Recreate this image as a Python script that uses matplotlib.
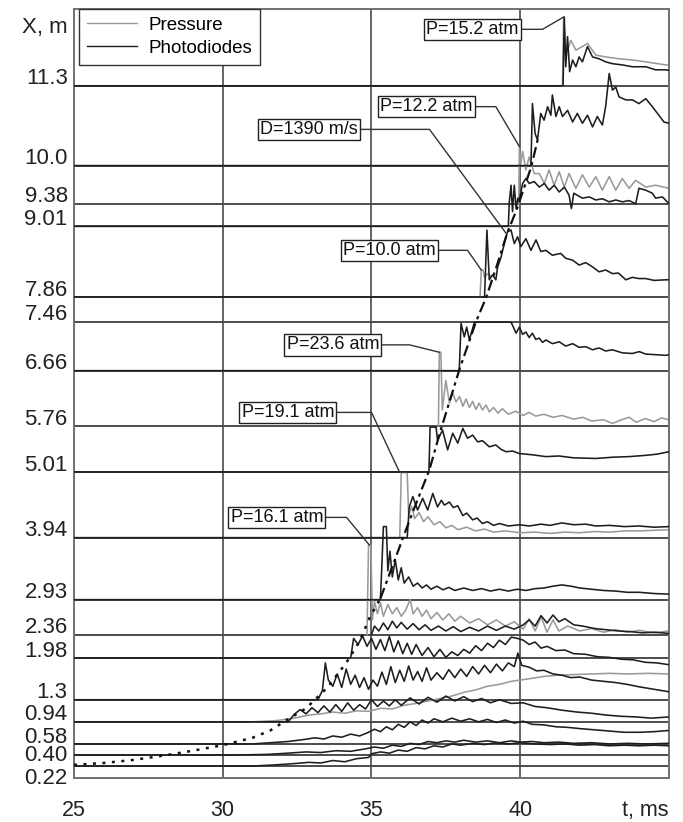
import matplotlib
matplotlib.use("Agg")
import matplotlib.pyplot as plt

plt.rcParams['font.family'] = ['Liberation Sans', 'DejaVu Sans']

# sensor positions along the tube (m) -> baselines / y ticks
x_levels = [0.22, 0.40, 0.58, 0.94, 1.3, 1.98, 2.36, 2.93, 3.94, 5.01,
            5.76, 6.66, 7.46, 7.86, 9.01, 9.38, 10.0, 11.3]
x_labels = ['0.22', '0.40', '0.58', '0.94', '1.3', '1.98', '2.36', '2.93',
            '3.94', '5.01', '5.76', '6.66', '7.46', '7.86', '9.01', '9.38',
            '10.0', '11.3']
t_ticks = [25, 30, 35, 40]
t_grid = [30, 35, 40]

###############################################
### traces, (t ms, X m)
###############################################
# photodiodes
b022 = [(25.0, 0.22), (31.0, 0.22), (31.8, 0.24), (32.4, 0.26), (32.9, 0.28), (33.3, 0.27),
        (33.7, 0.31), (34.1, 0.29), (34.5, 0.34), (34.9, 0.36), (35.0, 0.42), (35.3, 0.45),
        (35.6, 0.43), (35.9, 0.48), (36.2, 0.46), (36.5, 0.52), (36.8, 0.5), (37.1, 0.55),
        (37.4, 0.53), (37.7, 0.58), (38.0, 0.56), (38.4, 0.59), (38.8, 0.57), (39.2, 0.6),
        (39.6, 0.58), (40.0, 0.6), (40.5, 0.58), (41.0, 0.57), (41.5, 0.58), (42.0, 0.56),
        (42.5, 0.57), (43.0, 0.55), (43.5, 0.56), (44.0, 0.55), (44.5, 0.56), (45.0, 0.55)]
b040 = [(25.0, 0.40), (30.5, 0.40), (31.5, 0.41), (32.2, 0.43), (32.8, 0.45), (33.3, 0.44),
        (33.8, 0.47), (34.3, 0.46), (34.8, 0.5), (35.1, 0.53), (35.4, 0.51), (35.7, 0.56),
        (36.0, 0.54), (36.3, 0.59), (36.6, 0.57), (36.9, 0.62), (37.2, 0.6), (37.5, 0.63),
        (37.8, 0.61), (38.1, 0.64), (38.5, 0.61), (38.9, 0.63), (39.3, 0.6), (39.7, 0.63),
        (40.0, 0.61), (40.4, 0.62), (40.8, 0.6), (41.3, 0.61), (41.8, 0.59), (42.4, 0.6),
        (43.0, 0.58), (43.6, 0.59), (44.2, 0.58), (45.0, 0.59)]
b058 = [(25.0, 0.58), (31.0, 0.58), (31.6, 0.6), (32.2, 0.62), (32.7, 0.65), (33.1, 0.68),
        (33.4, 0.66), (33.7, 0.71), (34.0, 0.69), (34.3, 0.74), (34.6, 0.71), (34.9, 0.77),
        (35.1, 0.82), (35.3, 0.78), (35.5, 0.86), (35.7, 0.81), (35.9, 0.9), (36.1, 0.85),
        (36.3, 0.94), (36.5, 0.88), (36.7, 0.97), (36.9, 0.92), (37.1, 0.99), (37.4, 0.94),
        (37.7, 1.0), (38.0, 0.95), (38.3, 0.99), (38.6, 0.94), (38.9, 0.98), (39.2, 0.93),
        (39.5, 0.97), (39.8, 0.92), (40.1, 0.95), (40.4, 0.9), (40.8, 0.89), (41.2, 0.86),
        (41.6, 0.85), (42.0, 0.83), (42.5, 0.81), (43.0, 0.79), (43.5, 0.77), (44.0, 0.77),
        (44.5, 0.78), (45.0, 0.8)]
b094 = [(25.0, 0.94), (32.2, 0.94), (32.4, 1.06), (32.6, 1.14), (32.8, 1.07), (33.0, 1.17),
        (33.2, 1.09), (33.4, 1.2), (33.6, 1.1), (33.8, 1.22), (34.0, 1.11), (34.2, 1.25),
        (34.4, 1.13), (34.6, 1.22), (34.8, 1.15), (35.0, 1.3), (35.2, 1.19), (35.4, 1.28),
        (35.6, 1.2), (35.8, 1.3), (36.0, 1.21), (36.3, 1.33), (36.6, 1.23), (36.9, 1.34),
        (37.2, 1.26), (37.5, 1.36), (37.8, 1.28), (38.1, 1.35), (38.4, 1.27), (38.7, 1.32),
        (39.0, 1.25), (39.3, 1.3), (39.7, 1.24), (40.1, 1.25), (40.5, 1.19), (40.9, 1.17),
        (41.4, 1.13), (41.9, 1.1), (42.4, 1.08), (42.9, 1.05), (43.4, 1.03), (43.9, 1.02),
        (44.4, 1.0), (45.0, 1.02)]
b130 = [(25.0, 1.3), (33.2, 1.3), (33.35, 1.45), (33.45, 1.9), (33.55, 1.62), (33.7, 1.52),
        (33.85, 1.72), (34.0, 1.5), (34.15, 1.8), (34.3, 1.55), (34.45, 1.7), (34.6, 1.5),
        (34.75, 1.66), (34.9, 1.47), (35.05, 1.62), (35.2, 1.52), (35.35, 1.75), (35.5, 1.55),
        (35.65, 1.84), (35.8, 1.58), (35.95, 1.78), (36.1, 1.6), (36.25, 1.85), (36.4, 1.62),
        (36.55, 1.76), (36.7, 1.6), (36.85, 1.82), (37.0, 1.62), (37.2, 1.74), (37.4, 1.63),
        (37.6, 1.79), (37.8, 1.66), (38.0, 1.8), (38.2, 1.68), (38.4, 1.84), (38.6, 1.72),
        (38.8, 1.86), (39.0, 1.74), (39.2, 1.88), (39.4, 1.77), (39.6, 1.9), (39.8, 1.84),
        (39.92, 2.06), (40.05, 1.86), (40.3, 1.83), (40.55, 1.77), (40.8, 1.78), (41.1, 1.72),
        (41.4, 1.7), (41.7, 1.66), (42.0, 1.67), (42.4, 1.62), (42.8, 1.6), (43.2, 1.58),
        (43.6, 1.55), (44.0, 1.51), (44.5, 1.47), (45.0, 1.43)]
b198 = [(25.0, 1.98), (34.3, 1.98), (34.4, 2.3), (34.55, 2.2), (34.7, 2.34), (34.85, 2.17),
        (35.0, 2.3), (35.15, 2.12), (35.3, 2.28), (35.45, 2.1), (35.6, 2.33), (35.75, 2.08),
        (35.9, 2.26), (36.05, 2.05), (36.2, 2.22), (36.35, 2.04), (36.5, 2.2), (36.7, 2.02),
        (36.9, 2.15), (37.1, 2.0), (37.3, 2.12), (37.5, 1.99), (37.7, 2.08), (37.9, 2.02),
        (38.1, 2.12), (38.3, 2.06), (38.5, 2.18), (38.7, 2.1), (38.9, 2.22), (39.1, 2.15),
        (39.3, 2.27), (39.5, 2.2), (39.7, 2.32), (39.9, 2.3), (40.1, 2.27), (40.3, 2.2),
        (40.5, 2.24), (40.7, 2.14), (40.9, 2.17), (41.2, 2.1), (41.5, 2.11), (41.8, 2.05),
        (42.2, 2.04), (42.6, 2.0), (43.0, 1.99), (43.4, 1.96), (43.8, 1.95), (44.2, 1.91),
        (44.6, 1.9), (45.0, 1.87)]
b236 = [(35.0, 2.36), (35.1, 2.5), (35.25, 2.42), (35.4, 2.55), (35.55, 2.44), (35.7, 2.58),
        (35.85, 2.47), (36.0, 2.56), (36.2, 2.45), (36.4, 2.54), (36.6, 2.44), (36.8, 2.52),
        (37.0, 2.43), (37.25, 2.5), (37.5, 2.42), (37.75, 2.49), (38.0, 2.41), (38.3, 2.48),
        (38.6, 2.42), (38.9, 2.5), (39.2, 2.43), (39.5, 2.5), (39.8, 2.45), (40.1, 2.52),
        (40.3, 2.6), (40.5, 2.5), (40.7, 2.67), (40.9, 2.55), (41.1, 2.68), (41.3, 2.57),
        (41.5, 2.62), (41.8, 2.52), (42.1, 2.5), (42.5, 2.46), (42.9, 2.44), (43.3, 2.42),
        (43.7, 2.41), (44.1, 2.39), (44.5, 2.4), (45.0, 2.38)]
b293 = [(25.0, 2.93), (35.3, 2.93), (35.35, 3.5), (35.4, 4.12), (35.5, 4.12), (35.55, 3.4),
        (35.62, 3.72), (35.7, 3.3), (35.8, 3.58), (35.9, 3.25), (36.0, 3.45), (36.1, 3.2),
        (36.25, 3.3), (36.4, 3.15), (36.55, 3.2), (36.7, 3.12), (36.85, 3.17), (37.0, 3.1),
        (37.2, 3.15), (37.4, 3.09), (37.6, 3.13), (37.8, 3.08), (38.1, 3.12), (38.4, 3.08),
        (38.7, 3.11), (39.0, 3.07), (39.3, 3.1), (39.6, 3.07), (39.9, 3.1), (40.2, 3.08),
        (40.5, 3.11), (40.8, 3.12), (41.1, 3.15), (41.4, 3.17), (41.7, 3.15), (42.0, 3.12),
        (42.4, 3.1), (42.8, 3.08), (43.2, 3.07), (43.6, 3.05), (44.0, 3.05), (44.5, 3.03),
        (45.0, 3.02)]
b394 = [(25.0, 3.94), (36.2, 3.94), (36.27, 4.44), (36.39, 4.61), (36.55, 4.39), (36.72, 4.58),
        (36.89, 4.39), (37.06, 4.66), (37.22, 4.44), (37.35, 4.55), (37.45, 4.47), (37.62, 4.52),
        (37.75, 4.43), (37.9, 4.46), (38.07, 4.3), (38.2, 4.34), (38.4, 4.23), (38.55, 4.26),
        (38.73, 4.17), (38.9, 4.2), (39.1, 4.14), (39.3, 4.17), (39.6, 4.13), (39.97, 4.15),
        (40.3, 4.13), (40.7, 4.16), (41.0, 4.14), (41.4, 4.18), (41.8, 4.15), (42.2, 4.16),
        (42.54, 4.13), (43.0, 4.14), (43.5, 4.12), (44.0, 4.13), (44.5, 4.11), (45.0, 4.12)]
b501 = [(25.0, 5.01), (36.93, 5.01), (36.97, 5.74), (37.17, 5.74), (37.22, 5.53), (37.39, 5.69),
        (37.56, 5.37), (37.73, 5.64), (37.9, 5.48), (38.07, 5.72), (38.23, 5.56), (38.4, 5.61),
        (38.57, 5.5), (38.73, 5.52), (38.96, 5.42), (39.18, 5.45), (39.35, 5.38), (39.52, 5.34),
        (39.75, 5.35), (39.97, 5.31), (40.4, 5.29), (40.86, 5.26), (41.3, 5.27), (41.8, 5.24),
        (42.54, 5.23), (43.1, 5.25), (43.66, 5.26), (44.2, 5.28), (44.6, 5.3), (45.0, 5.34)]
b666 = [(25.0, 6.66), (37.95, 6.66), (38.01, 7.43), (38.12, 7.21), (38.2, 7.37), (38.29, 7.16),
        (38.46, 7.45), (39.69, 7.45), (39.74, 7.4), (39.86, 7.27), (39.97, 7.37), (40.08, 7.25),
        (40.19, 7.29), (40.3, 7.2), (40.41, 7.27), (40.52, 7.17), (40.64, 7.19), (40.75, 7.12),
        (40.86, 7.16), (41.08, 7.1), (41.31, 7.13), (41.53, 7.06), (41.76, 7.1), (41.98, 7.04),
        (42.2, 7.05), (42.43, 7.0), (42.65, 7.03), (42.87, 6.98), (43.1, 7.0), (43.43, 6.95),
        (43.77, 6.94), (44.0, 6.97), (44.22, 6.93), (44.55, 6.92), (44.89, 6.91), (45.0, 6.92)]
b786 = [(25.0, 7.86), (38.8, 7.86), (38.88, 8.95), (38.96, 8.14), (39.07, 8.22), (39.18, 8.14),
        (39.24, 8.35), (39.35, 8.5), (39.45, 8.7), (39.57, 8.92), (39.69, 8.95), (39.8, 8.73),
        (39.91, 8.84), (40.02, 8.68), (40.19, 8.81), (40.36, 8.62), (40.53, 8.79), (40.69, 8.6),
        (40.86, 8.62), (41.08, 8.54), (41.36, 8.57), (41.53, 8.49), (41.76, 8.46), (41.98, 8.38),
        (42.2, 8.42), (42.43, 8.35), (42.65, 8.27), (42.87, 8.3), (43.1, 8.24), (43.3, 8.25),
        (43.55, 8.14), (43.77, 8.18), (43.99, 8.16), (44.22, 8.16), (44.5, 8.13), (44.89, 8.14),
        (45.0, 8.14)]
b901 = [(25.0, 9.01), (39.6, 9.01), (39.63, 9.4), (39.69, 9.68), (39.74, 9.25), (39.8, 9.68),
        (39.86, 9.3), (39.92, 9.47), (39.97, 9.44), (40.08, 9.71), (40.19, 9.79), (40.3, 9.71),
        (40.47, 9.74), (40.64, 9.65), (40.81, 9.71), (40.97, 9.6), (41.14, 9.68), (41.31, 9.57),
        (41.48, 9.65), (41.64, 9.52), (41.72, 9.3), (41.8, 9.55), (42.09, 9.47), (42.32, 9.49),
        (42.54, 9.44), (42.76, 9.46), (42.99, 9.41), (43.21, 9.44), (43.43, 9.41), (43.66, 9.43),
        (43.88, 9.38), (43.99, 9.63), (44.22, 9.6), (44.44, 9.55), (44.55, 9.47), (44.78, 9.49),
        (45.0, 9.38)]
b1000 = [(25.0, 10.0), (40.36, 10.0), (40.41, 11.01), (40.5, 10.52), (40.58, 10.42), (40.69, 10.85),
         (40.8, 10.74), (40.92, 10.96), (41.03, 10.82), (41.08, 11.15), (41.2, 10.8), (41.31, 10.96),
         (41.42, 10.8), (41.59, 10.9), (41.76, 10.71), (41.92, 10.85), (42.09, 10.69), (42.26, 10.82),
         (42.43, 10.63), (42.59, 10.8), (42.76, 10.66), (42.87, 10.96), (42.99, 11.5), (43.1, 11.23),
         (43.21, 11.28), (43.32, 11.12), (43.55, 11.07), (43.77, 11.07), (43.99, 11.01), (44.22, 11.09),
         (44.44, 10.96), (44.66, 10.82), (44.83, 10.71), (45.0, 10.69)]
b1130 = [(25.0, 11.3), (41.44, 11.3), (41.48, 12.42), (41.53, 11.61), (41.59, 12.1), (41.66, 11.53),
         (41.76, 11.72), (41.87, 11.61), (41.98, 11.77), (42.09, 11.69), (42.26, 11.94), (42.43, 11.77),
         (42.65, 11.74), (42.87, 11.69), (43.1, 11.66), (43.43, 11.64), (43.77, 11.61), (44.22, 11.61),
         (44.55, 11.56), (44.89, 11.56), (45.0, 11.55)]

# pressure gauges
p094 = [(31.0, 0.94), (31.8, 0.96), (32.4, 1.0), (32.9, 1.05), (33.3, 1.07), (33.7, 1.1),
        (34.1, 1.08), (34.5, 1.12), (34.9, 1.11), (35.3, 1.16), (35.7, 1.15), (36.1, 1.21),
        (36.5, 1.24), (36.9, 1.28), (37.3, 1.32), (37.7, 1.36), (38.1, 1.42), (38.5, 1.46),
        (38.9, 1.52), (39.3, 1.55), (39.7, 1.6), (40.0, 1.62), (40.4, 1.65), (40.8, 1.68),
        (41.3, 1.7), (41.8, 1.71), (42.4, 1.72), (43.0, 1.73), (43.6, 1.72), (44.3, 1.73),
        (45.0, 1.72)]
p236 = [(34.85, 2.36), (34.9, 3.82), (34.98, 3.82), (35.03, 2.6), (35.1, 2.9), (35.2, 2.7),
        (35.3, 2.88), (35.4, 2.66), (35.55, 2.85), (35.7, 2.7), (35.85, 2.8), (36.0, 2.66),
        (36.15, 2.76), (36.3, 2.93), (36.4, 2.7), (36.55, 2.8), (36.7, 2.66), (36.85, 2.76),
        (37.0, 2.62), (37.2, 2.72), (37.4, 2.6), (37.6, 2.7), (37.8, 2.58), (38.0, 2.66),
        (38.3, 2.55), (38.6, 2.62), (38.9, 2.52), (39.2, 2.6), (39.5, 2.5), (39.8, 2.57),
        (40.1, 2.45), (40.3, 2.62), (40.5, 2.42), (40.7, 2.65), (40.9, 2.4), (41.1, 2.6),
        (41.3, 2.42), (41.6, 2.5), (42.0, 2.42), (42.4, 2.46), (42.8, 2.4), (43.2, 2.44),
        (43.6, 2.4), (44.0, 2.43), (44.5, 2.39), (45.0, 2.42)]
p394 = [(35.95, 3.94), (36.0, 5.0), (36.2, 5.0), (36.25, 4.3), (36.35, 4.45), (36.45, 4.25),
        (36.6, 4.35), (36.75, 4.2), (36.9, 4.28), (37.1, 4.15), (37.3, 4.2), (37.5, 4.1),
        (37.7, 4.14), (37.9, 4.07), (38.2, 4.11), (38.5, 4.05), (38.8, 4.08), (39.1, 4.03),
        (39.5, 4.05), (40.0, 4.02), (40.5, 4.03), (41.0, 4.01), (41.5, 4.03), (42.0, 4.02),
        (42.5, 4.04), (43.0, 4.03), (43.5, 4.05), (44.0, 4.05), (44.5, 4.06), (45.0, 4.07)]
p576 = [(37.25, 5.76), (37.28, 6.96), (37.33, 6.96), (37.38, 6.02), (37.5, 6.5), (37.62, 6.13),
        (37.73, 6.3), (37.84, 6.15), (37.96, 6.24), (38.07, 6.08), (38.18, 6.2), (38.29, 6.06),
        (38.4, 6.16), (38.51, 6.03), (38.62, 6.13), (38.73, 6.02), (38.85, 6.1), (38.96, 5.99),
        (39.1, 6.06), (39.25, 5.97), (39.4, 6.04), (39.6, 5.95), (39.85, 6.0), (40.1, 5.93),
        (40.3, 5.98), (40.52, 5.92), (40.8, 5.95), (41.1, 5.9), (41.4, 5.93), (41.8, 5.87),
        (42.1, 5.9), (42.4, 5.84), (42.8, 5.86), (43.1, 5.8), (43.4, 5.86), (43.66, 5.9),
        (43.9, 5.82), (44.2, 5.88), (44.5, 5.83), (44.75, 5.89), (45.0, 5.86)]
p786 = [(38.65, 7.86), (38.69, 8.3), (38.75, 8.3), (38.8, 8.18), (38.9, 8.24), (39.0, 8.2),
        (39.1, 8.22)]
p938 = [(39.95, 9.38), (39.97, 10.28), (40.02, 10.04), (40.08, 10.23), (40.19, 9.93), (40.3, 10.14),
        (40.47, 9.87), (40.64, 9.87), (40.81, 9.71), (40.97, 9.93), (41.14, 9.68), (41.31, 9.9),
        (41.48, 9.65), (41.64, 9.87), (41.87, 9.63), (42.09, 9.85), (42.32, 9.65), (42.54, 9.82),
        (42.76, 9.6), (42.99, 9.82), (43.21, 9.6), (43.43, 9.79), (43.66, 9.63), (43.88, 9.76),
        (44.22, 9.65), (44.55, 9.68), (45.0, 9.63)]
p1130 = [(41.42, 11.3), (41.46, 12.42), (41.52, 11.95), (41.59, 11.88), (41.7, 12.04), (41.87, 11.88),
         (42.09, 11.94), (42.26, 11.99), (42.54, 11.8), (42.87, 11.77), (43.32, 11.74), (43.77, 11.72),
         (44.22, 11.69), (44.89, 11.64), (45.0, 11.64)]

# detonation front trajectory
front_dot = [(25.0, 0.24), (26.0, 0.27), (27.0, 0.32), (28.0, 0.39), (29.0, 0.47), (30.0, 0.56),
             (31.0, 0.68), (31.6, 0.8), (32.15, 0.97), (32.8, 1.16), (33.5, 1.49), (34.15, 1.9),
             (34.6, 2.25), (34.95, 2.65), (35.3, 2.95)]
front_dash = [(35.3, 2.95), (36.3, 4.25), (36.95, 5.05), (37.3, 5.65), (37.95, 6.67), (38.5, 7.44),
              (38.86, 7.86), (39.2, 8.35), (39.56, 8.9), (39.87, 9.27), (40.37, 9.98), (40.6, 10.45)]

# callouts: text, box right edge, elbow of leader, tip of leader
ann_text = ['P=15.2 atm', 'P=12.2 atm', 'D=1390 m/s', 'P=10.0 atm',
            'P=23.6 atm', 'P=19.1 atm', 'P=16.1 atm']
ann_box = [(40.07, 12.22), (38.52, 10.96), (34.66, 10.59), (37.28, 8.62),
           (35.37, 7.08), (33.86, 5.98), (33.49, 4.27)]
ann_elbow = [(40.75, 12.22), (39.18, 10.96), (36.95, 10.59), (38.23, 8.62),
             (36.28, 7.08), (35.0, 5.98), (34.16, 4.27)]
ann_tip = [(41.46, 12.42), (39.97, 10.31), (39.52, 8.9), (38.69, 8.3),
           (37.28, 6.96), (35.94, 5.01), (34.93, 3.82)]

photo = [b022, b040, b058, b094, b130, b198, b236, b293, b394, b501, b666, b786, b901, b1000, b1130]
press = [p094, p236, p394, p576, p786, p938, p1130]

GRAY = '#9a9a9a'
DARK = '#1e1e1e'

###############################################
### The plot
###############################################
fig = plt.figure(figsize=(6.83, 8.22), dpi=100)
ax = fig.add_axes([0.1083, 0.0535, 0.8712, 0.9355])
ax.set_xlim(25, 45)
ax.set_ylim(0.025, 12.55)

for lv in x_levels:
    ax.axhline(lv, color='#2e2e2e', lw=1.2, zorder=1)
for tg in t_grid:
    ax.axvline(tg, color='#4a4a4a', lw=1.2, zorder=1)

for tr in press:
    ax.plot([p[0] for p in tr], [p[1] for p in tr], color=GRAY, lw=1.15, zorder=2)
for tr in photo:
    ax.plot([p[0] for p in tr], [p[1] for p in tr], color=DARK, lw=1.15, zorder=3)

ax.plot([p[0] for p in front_dot], [p[1] for p in front_dot], color='#111111',
        lw=1.8, ls=(0, (1.2, 2.6)), zorder=4)
ax.plot([p[0] for p in front_dash], [p[1] for p in front_dash], color='#111111',
        lw=1.6, ls=(0, (5, 2, 1.5, 2)), zorder=4)

for txt, bx, el, tp in zip(ann_text, ann_box, ann_elbow, ann_tip):
    ax.plot([bx[0], el[0], tp[0]], [bx[1], el[1], tp[1]], color='#333333', lw=1.0, zorder=5)
    ax.annotate(txt, xy=bx, xytext=(-2.5, 0), textcoords='offset points',
                ha='right', va='center', fontsize=13, color='#111111', zorder=6,
                bbox=dict(boxstyle='square,pad=0.12', fc='white', ec='#222222', lw=1.0))

# legend
ax.plot([], [], color=GRAY, lw=1.0, label='Pressure')
ax.plot([], [], color=DARK, lw=1.0, label='Photodiodes')
leg = ax.legend(loc='upper left', bbox_to_anchor=(0.008, 1.0), borderaxespad=0,
                fontsize=13.5, frameon=True, fancybox=False, framealpha=1,
                edgecolor='#333333', handlelength=2.7, handletextpad=0.6,
                labelspacing=0.3, borderpad=0.42)
leg.get_frame().set_linewidth(1.0)
leg.set_zorder(10)

# y labels sit on their lines, the two lowest are pushed down to fit
ytrans = ax.get_yaxis_transform()
for lv, lab in zip(x_levels, x_labels):
    if lab == '0.22':
        va, dy = 'top', -1.2
    elif lab == '0.40':
        va, dy = 'center', -0.6
    else:
        va, dy = 'baseline', 1.0
    ax.annotate(lab, xy=(0, lv), xycoords=ytrans, xytext=(-4.5, dy),
                textcoords='offset points', ha='right', va=va,
                fontsize=16, color='#222222')
ax.annotate('X, m', xy=(0, 12.16), xycoords=ytrans, xytext=(-4.5, 0),
            textcoords='offset points', ha='right', va='baseline',
            fontsize=16, color='#222222')
ax.set_yticks([])

ax.set_xticks(t_ticks + [44.2])
ax.set_xticklabels([str(t) for t in t_ticks] + ['t, ms'])
ax.tick_params(axis='x', length=0, pad=16, labelsize=15.5, labelcolor='#222222')

for sp in ax.spines.values():
    sp.set_color('#707070')
    sp.set_linewidth(1.4)

plt.savefig('out.png', dpi=100)
